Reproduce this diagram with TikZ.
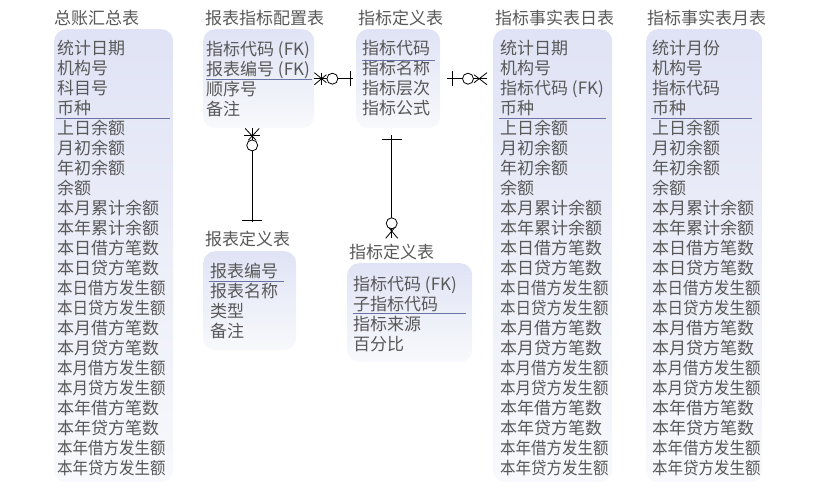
\documentclass[tikz,border=0pt]{standalone}
\usepackage{fontspec}
\setmainfont{Noto Sans CJK SC}
\usetikzlibrary{calc}

\definecolor{fieldgray}{RGB}{88,88,88}
\definecolor{keyline}{RGB}{105,118,165}
\definecolor{boxtop}{RGB}{224,227,245}
\definecolor{boxbottom}{RGB}{248,249,252}
\newcommand{\narrow}[1]{\scalebox{0.91}[1]{#1}}

\begin{document}
\begin{tikzpicture}[x=1pt,y=-1pt,
	table box/.style={rounded corners=12pt,top color=boxtop,bottom color=boxbottom,anchor=north west,inner sep=0pt},
	table title/.style={anchor=west,inner sep=0pt,text height=13pt,text depth=0pt,text=fieldgray,font=\fontsize{17}{20}\selectfont},
	field/.style={anchor=west,inner sep=0pt,text height=13pt,text depth=0pt,text=fieldgray,font=\fontsize{17}{20}\selectfont},
	key line/.style={draw=keyline,line width=0.8pt},
	link/.style={draw=black,line width=0.8pt}
	]
	
	\useasboundingbox (0,0) rectangle (827,501);
	
	\def \amounts {上日余额,月初余额,年初余额,余额,本月累计余额,本年累计余额,本日借方笔数,本日贷方笔数,\narrow{本日借方发生额},\narrow{本日贷方发生额},本月借方笔数,本月贷方笔数,\narrow{本月借方发生额},\narrow{本月贷方发生额},本年借方笔数,本年贷方笔数,\narrow{本年借方发生额},\narrow{本年贷方发生额}};
	
	% boxes
	\node[table box,minimum width=119pt,minimum height=453pt] (glbox) at (54,29) {};
	\node[table box,minimum width=111pt,minimum height=99pt] (cfgbox) at (203,29) {};
	\node[table box,minimum width=84pt,minimum height=99pt] (defbox) at (356,29) {};
	\node[table box,minimum width=119pt,minimum height=453pt] (daybox) at (493,29) {};
	\node[table box,minimum width=116pt,minimum height=453pt] (monbox) at (646,29) {};
	\node[table box,minimum width=93pt,minimum height=99pt] (rptbox) at (203,251) {};
	\node[table box,minimum width=125pt,minimum height=99pt] (subbox) at (347,263) {};
	
	% titles
	\node[table title] (gltitle) at (54,18) {总账汇总表};
	\node[table title] (cfgtitle) at (205,18) {报表指标配置表};
	\node[table title] (deftitle) at (358,18) {指标定义表};
	\node[table title] (daytitle) at (495,18) {指标事实表日表};
	\node[table title] (montitle) at (647,18) {指标事实表月表};
	\node[table title] (rpttitle) at (205,239) {报表定义表};
	\node[table title] (subtitle) at (349,252) {指标定义表};
	
	% fields
	\foreach \f [count=\i] in {统计日期,机构号,科目号,币种}
		\node[field] (gl\i) at (57,{48+20*(\i-1)}) {\f};
	\foreach \f [count=\i from 5] in \amounts
		\node[field] (gl\i) at (57,{48+20*(\i-1)}) {\f};
	
	\foreach \f [count=\i] in {统计日期,机构号,指标代码 (FK),币种}
		\node[field] (day\i) at (500,{48+20*(\i-1)}) {\f};
	\foreach \f [count=\i from 5] in \amounts
		\node[field] (day\i) at (500,{48+20*(\i-1)}) {\f};
	
	\foreach \f [count=\i] in {统计月份,机构号,指标代码,币种}
		\node[field] (mon\i) at (652,{48+20*(\i-1)}) {\f};
	\foreach \f [count=\i from 5] in \amounts
		\node[field] (mon\i) at (652,{48+20*(\i-1)}) {\f};
	
	\foreach \f [count=\i] in {指标代码 (FK),报表编号 (FK),顺序号,备注}
		\node[field] (cfg\i) at (206,{49+20*(\i-1)}) {\f};
	\foreach \f [count=\i] in {指标代码,指标名称,指标层次,指标公式}
		\node[field] (def\i) at (362,{48+20*(\i-1)}) {\f};
	\foreach \f [count=\i] in {报表编号,报表名称,类型,备注}
		\node[field] (rpt\i) at (210,{271+20*(\i-1)}) {\f};
	\foreach \f [count=\i] in {指标代码 (FK),子指标代码,指标来源,百分比}
		\node[field] (sub\i) at (353,{284+20*(\i-1)}) {\f};
	
	% key lines
	\draw[key line] (56,118) -- (170,118);
	\draw[key line] (206,79) -- (312,79);
	\draw[key line] (362,60) -- (435,60);
	\draw[key line] (499,118) -- (606,118);
	\draw[key line] (651,118) -- (752,118);
	\draw[key line] (209,281) -- (284,281);
	\draw[key line] (353,313) -- (466,313);
	
	% cfg -> def
	\draw[link,shorten >=3pt] (cfgbox.east) -- (defbox.west);
	\draw[link] ($(cfgbox.east)+(0,-6)$) -- ($(cfgbox.east)+(12,4)$);
	\draw[link] ($(cfgbox.east)+(0,6)$) -- ($(cfgbox.east)+(12,-4)$);
	\draw[link] ($(cfgbox.east)+(7,-6)$) -- ($(cfgbox.east)+(7,6)$);
	\draw[link,fill=white] ($(cfgbox.east)+(18,0)$) circle (5.5);
	\draw[link] ($(defbox.west)+(-6,-7.5)$) -- ($(defbox.west)+(-6,7.5)$);
	
	% def -> day
	\coordinate (dayhook) at (defbox.east -| daybox.west);
	\draw[link,shorten <=7pt,shorten >=6pt] (defbox.east) -- (dayhook);
	\draw[link] ($(defbox.east)+(12,-7.5)$) -- ($(defbox.east)+(12,7.5)$);
	\draw[link] ($(dayhook)+(-6,-6)$) -- ($(dayhook)+(-19,4)$);
	\draw[link] ($(dayhook)+(-6,6)$) -- ($(dayhook)+(-19,-4)$);
	\draw[link,fill=white] ($(dayhook)+(-25,0)$) circle (5.5);
	
	% cfg -> rpt
	\coordinate (cfgfoot) at ($(cfgbox.south)+(-6.5,0)$);
	\draw[link,shorten >=10pt] (cfgfoot) -- (cfgfoot |- rpttitle.north);
	\draw[link] ($(cfgfoot)+(-7,0)$) -- ($(cfgfoot)+(4,12)$);
	\draw[link] ($(cfgfoot)+(7,0)$) -- ($(cfgfoot)+(-4,12)$);
	\draw[link] ($(cfgfoot)+(-8,7)$) -- ($(cfgfoot)+(8,7)$);
	\draw[link,fill=white] ($(cfgfoot)+(0,17)$) circle (5.5);
	\draw[link] ($(cfgfoot |- rpttitle.north)+(-10,-12)$) -- ($(cfgfoot |- rpttitle.north)+(10,-12)$);
	
	% def -> sub
	\draw[link,shorten <=7pt,shorten >=7pt] (subtitle.north |- defbox.south) -- (subtitle.north);
	\draw[link] ($(subtitle.north |- defbox.south)+(-10,11)$) -- ($(subtitle.north |- defbox.south)+(10,11)$);
	\draw[link] ($(subtitle.north)+(-6,-7)$) -- ($(subtitle.north)+(4,-19)$);
	\draw[link] ($(subtitle.north)+(6,-7)$) -- ($(subtitle.north)+(-4,-19)$);
	\draw[link,fill=white] ($(subtitle.north)+(0,-22)$) circle (5.5);
	
\end{tikzpicture}
\end{document}
